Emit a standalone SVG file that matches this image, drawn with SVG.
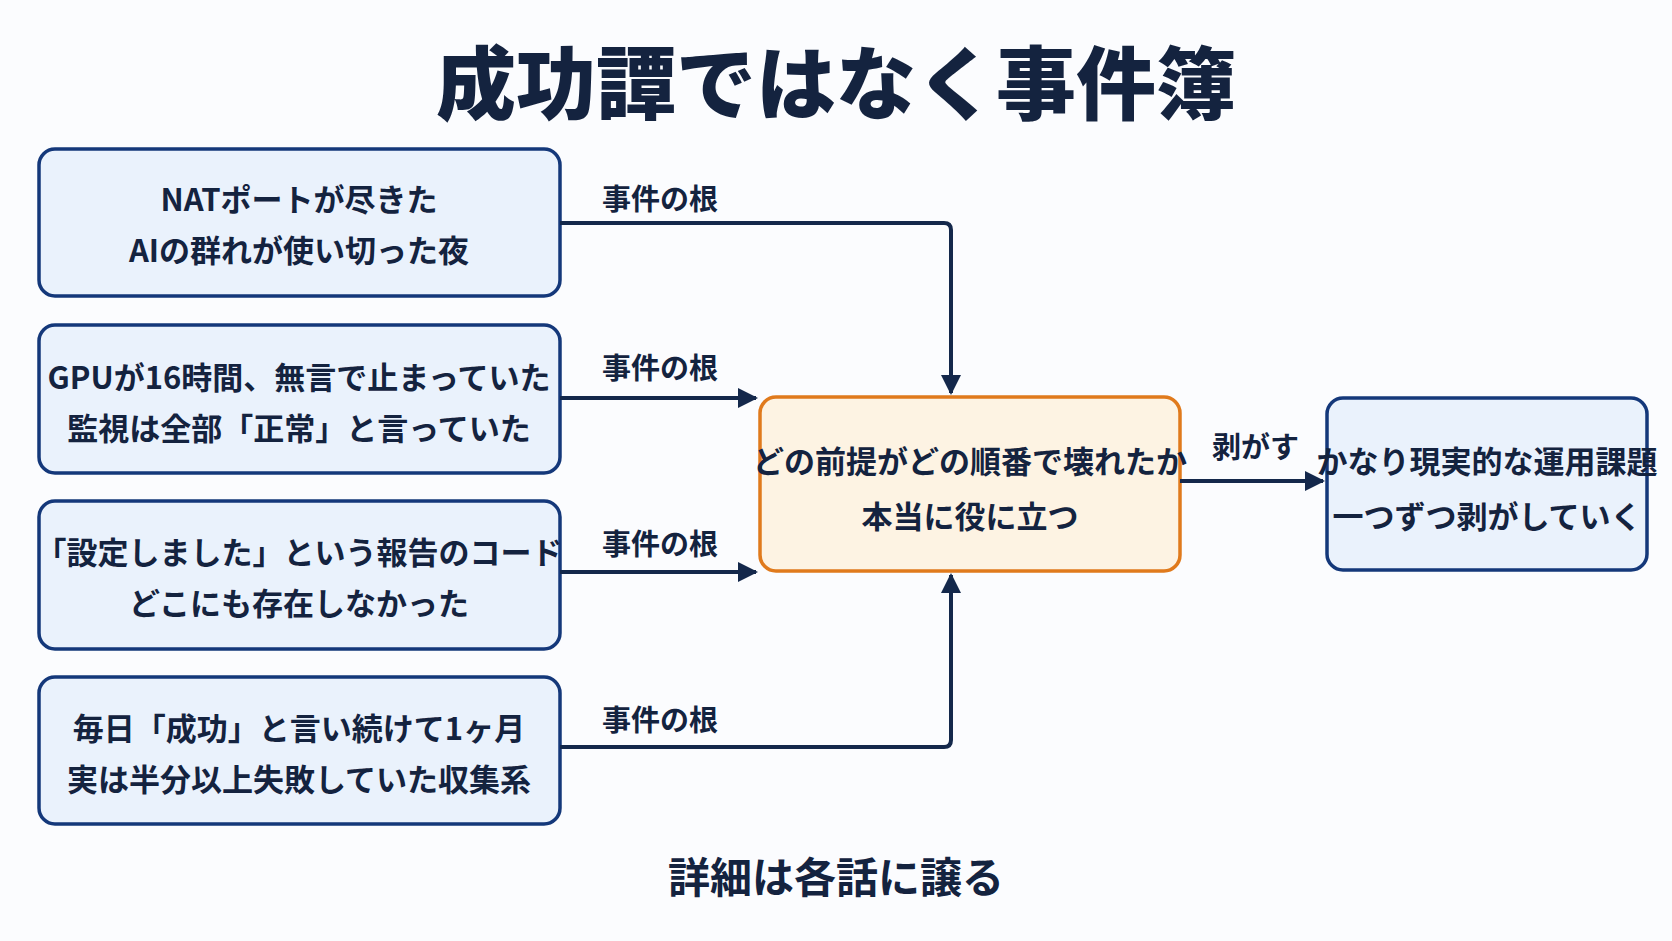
<svg xmlns="http://www.w3.org/2000/svg" width="1672" height="941" viewBox="0 0 1672 941">
<defs>
<marker id="ah" viewBox="0 0 10 10" refX="9" refY="5" markerWidth="5" markerHeight="5" orient="auto"><path d="M0,0 L10,5 L0,10 z" fill="#14284b"/></marker>
<style>
text{font-family:"Noto Sans CJK JP","Noto Sans",sans-serif;font-weight:bold;fill:#14233f;text-anchor:middle;dominant-baseline:central}
.b{fill:#eaf2fc;stroke:#14387a;stroke-width:3.5}
.t{font-size:31px}
.l{font-size:29px;text-anchor:start}
.c{fill:none;stroke:#14284b;stroke-width:4;marker-end:url(#ah)}
</style>
</defs>
<rect width="1672" height="941" fill="#fbfcfe"/>
<text x="836" y="78" style="font-size:80px;font-weight:900">成功譚ではなく事件簿</text>
<g id="n1"><rect class="b" x="39" y="149" width="521" height="147" rx="16"/><text class="t" x="299" y="197">NATポートが尽きた</text><text class="t" x="299" y="248">AIの群れが使い切った夜</text></g>
<g id="n2"><rect class="b" x="39" y="325" width="521" height="148" rx="16"/><text class="t" x="299" y="375">GPUが16時間、無言で止まっていた</text><text class="t" x="299" y="426">監視は全部「正常」と言っていた</text></g>
<g id="n3"><rect class="b" x="39" y="501" width="521" height="148" rx="16"/><text class="t" x="299" y="550">「設定しました」という報告のコード</text><text class="t" x="299" y="601">どこにも存在しなかった</text></g>
<g id="n4"><rect class="b" x="39" y="677" width="521" height="147" rx="16"/><text class="t" x="299" y="726">毎日「成功」と言い続けて1ヶ月</text><text class="t" x="299" y="777">実は半分以上失敗していた収集系</text></g>
<g id="center"><rect x="760" y="397" width="420" height="174" rx="16" fill="#fdf3e3" stroke="#e07a1c" stroke-width="3.5"/><text class="t" x="970" y="459">どの前提がどの順番で壊れたか</text><text class="t" x="970" y="514">本当に役に立つ</text></g>
<g id="right"><rect class="b" x="1327" y="398" width="320" height="172" rx="16"/><text class="t" x="1487" y="459">かなり現実的な運用課題</text><text class="t" x="1487" y="514">一つずつ剥がしていく</text></g>
<g id="connectors">
<path class="c" d="M560,223 H944 Q951,223 951,230 V393"/>
<path class="c" d="M560,398 H756"/>
<path class="c" d="M560,572 H756"/>
<path class="c" d="M560,747 H944 Q951,747 951,740 V575"/>
<path class="c" d="M1180,481 H1323"/>
<text class="l" x="602" y="197">事件の根</text>
<text class="l" x="602" y="366">事件の根</text>
<text class="l" x="602" y="542">事件の根</text>
<text class="l" x="602" y="718">事件の根</text>
<text class="l" x="1212" y="445">剥がす</text>
</g>
<text x="836" y="874" style="font-size:42px">詳細は各話に譲る</text>
</svg>
